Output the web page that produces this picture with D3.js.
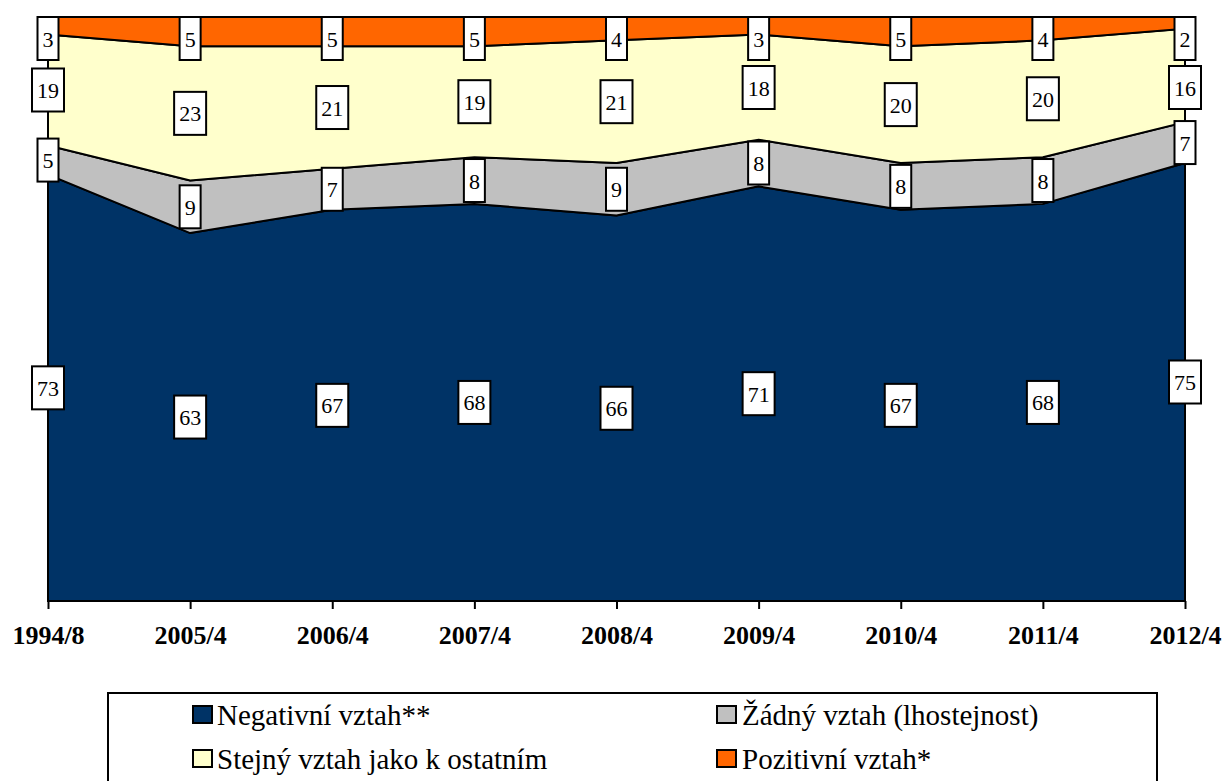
<!DOCTYPE html>
<html>
<head>
<meta charset="utf-8">
<script src="https://cdn.jsdelivr.net/npm/d3@7"></script>
<style>
  html, body { margin: 0; padding: 0; background: #fff; }
  svg { display: block; }
</style>
</head>
<body>
<script>
// ---- data ----
const periods = ["1994/8", "2005/4", "2006/4", "2007/4", "2008/4", "2009/4", "2010/4", "2011/4", "2012/4"];
const negativni = [73, 63, 67, 68, 66, 71, 67, 68, 75];
const zadny     = [5, 9, 7, 8, 9, 8, 8, 8, 7];
const stejny    = [19, 23, 21, 19, 21, 18, 20, 20, 16];
const pozitivni = [3, 5, 5, 5, 4, 3, 5, 4, 2];
const seriesNames = ["Negativní vztah**", "Žádný vztah (lhostejnost)", "Stejný vztah jako k ostatním", "Pozitivní vztah*"];
const seriesKeys = ["neg", "zad", "ste", "poz"];
const colors = ["#003366", "#C0C0C0", "#FFFFCC", "#FF6600"];

const FONT = '"Liberation Serif", "Times New Roman", Times, serif';

const rows = periods.map((p, i) => ({
  period: p, neg: negativni[i], zad: zadny[i], ste: stejny[i], poz: pozitivni[i]
}));

const W = 1225, H = 781;
const svg = d3.select("body").append("svg").attr("width", W).attr("height", H)
  .attr("font-family", FONT).style("font-family", FONT);

const x = d3.scalePoint().domain(periods).range([48, 1185]);
const y = d3.scaleLinear().domain([0, 100]).range([601, 17]);

const stack = d3.stack().keys(seriesKeys);
const stacked = stack(rows);

const area = d3.area()
  .x(d => x(d.data.period))
  .y0(d => y(d[0]))
  .y1(d => y(d[1]));

svg.append("g").selectAll("path")
  .data(stacked)
  .join("path")
  .attr("d", area)
  .attr("fill", (d, i) => colors[i])
  .attr("stroke", "#000")
  .attr("stroke-width", 2)
  .attr("stroke-linejoin", "miter");

// x axis
const xAxis = d3.axisBottom(x).tickSize(8).tickPadding(17);
const gx = svg.append("g").attr("transform", "translate(0,601)").call(xAxis);
gx.attr("font-family", FONT);
gx.select(".domain").attr("stroke", "#000").attr("stroke-width", 2).attr("d", "M48,0H1185");
gx.selectAll(".tick line").attr("stroke", "#000").attr("stroke-width", 2);
gx.selectAll(".tick text")
  .attr("fill", "#000")
  .style("font-family", FONT)
  .style("font-size", "26px")
  .style("font-weight", "bold");

// data labels
const boxH = 43, gap = 6, plotTop = 17;
const labelG = svg.append("g");
periods.forEach((p, i) => {
  let prevBottom = plotTop - gap;
  for (let s = stacked.length - 1; s >= 0; s--) {
    const d = stacked[s][i];
    const val = d[1] - d[0];
    let cy = (y(d[0]) + y(d[1])) / 2;
    let top = cy - boxH / 2;
    if (top < prevBottom + gap) top = prevBottom + gap;
    prevBottom = top + boxH;
    const cx = x(p);
    const g = labelG.append("g");
    const t = g.append("text")
      .attr("x", cx)
      .attr("y", top + boxH / 2 + 8)
      .attr("text-anchor", "middle")
      .style("font-family", FONT)
      .style("font-size", "22px")
      .attr("fill", "#000")
      .text(val);
    const bw = t.node().getComputedTextLength() + 10;
    g.insert("rect", "text")
      .attr("x", cx - bw / 2)
      .attr("y", top)
      .attr("width", bw)
      .attr("height", boxH)
      .attr("fill", "#fff")
      .attr("stroke", "#000")
      .attr("stroke-width", 2);
  }
});

// legend
const lg = svg.append("g");
lg.append("rect")
  .attr("x", 108).attr("y", 693)
  .attr("width", 1049).attr("height", 110)
  .attr("fill", "#fff").attr("stroke", "#000").attr("stroke-width", 2);
const legendPos = [
  { sx: 193, tx: 217, by: 725 },
  { sx: 717, tx: 742, by: 725 },
  { sx: 193, tx: 217, by: 769 },
  { sx: 717, tx: 742, by: 769 }
];
seriesNames.forEach((name, i) => {
  const p = legendPos[i];
  lg.append("rect")
    .attr("x", p.sx).attr("y", p.by - 19)
    .attr("width", 19).attr("height", 17)
    .attr("fill", colors[i]).attr("stroke", "#000").attr("stroke-width", 2);
  lg.append("text")
    .attr("x", p.tx).attr("y", p.by)
    .style("font-family", FONT)
    .style("font-size", "29px")
    .attr("fill", "#000")
    .text(name);
});
</script>
</body>
</html>
